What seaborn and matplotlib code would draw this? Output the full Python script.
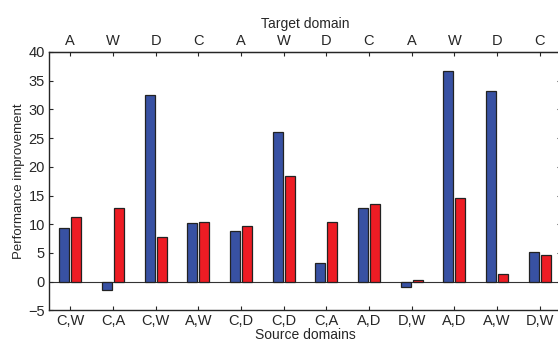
import pandas as pd
import numpy as np
import seaborn as sns
import matplotlib
matplotlib.use("Agg")
import matplotlib.pyplot as plt

sns.set_style("ticks")
plt.rcParams['font.family'] = ['Liberation Sans', 'DejaVu Sans']

source_labels = ["C,W", "C,A", "C,W", "A,W", "C,D", "C,D", "C,A", "A,D", "D,W", "A,D", "A,W", "D,W"]
target_labels = ["A", "W", "D", "C", "A", "W", "D", "C", "A", "W", "D", "C"]
blue_vals = [9.3, -1.4, 32.5, 10.2, 8.9, 26.1, 3.2, 12.9, -0.9, 36.7, 33.2, 5.2]
red_vals = [11.3, 12.9, 7.8, 10.4, 9.6, 18.4, 10.3, 13.6, 0.3, 14.6, 1.4, 4.7]


def main():
    n = len(source_labels)
    df = pd.DataFrame({
        "pos": list(range(n)) * 2,
        "method": ["blue"] * n + ["red"] * n,
        "value": blue_vals + red_vals,
    })

    fig = plt.figure(figsize=(5.58, 3.41), dpi=100)
    ax = fig.add_axes([49 / 558, 30.7 / 341, 512 / 558, 258.3 / 341])

    sns.barplot(data=df, x="pos", y="value", hue="method", order=list(range(n)),
                palette={"blue": "#3851a3", "red": "#ed1c24"}, saturation=1,
                width=0.56, gap=0.15, edgecolor="#222222", linewidth=0.9,
                legend=False, ax=ax)

    ax.axhline(0, color="#333333", lw=0.8, zorder=0)
    ax.set_xlim(-0.5, n - 0.5)
    ax.set_ylim(-5, 40)
    ax.set_yticks(range(-5, 41, 5))
    ax.set_yticklabels(["\u22125"] + [str(v) for v in range(0, 41, 5)])
    ax.set_xticks(range(n))
    ax.set_xticklabels(source_labels)
    ax.set_xlabel("Source domains", fontsize=10, labelpad=0)
    ax.set_ylabel("Performance improvement", fontsize=9.5, labelpad=2)
    ax.tick_params(direction="in", length=3, labelsize=10.5, pad=3,
                   right=True, top=False)

    sec = ax.secondary_xaxis("top")
    sec.set_xticks(range(n))
    sec.set_xticklabels(target_labels)
    sec.tick_params(direction="in", length=3, labelsize=10.5, pad=3)
    sec.set_xlabel("Target domain", fontsize=10, labelpad=4)

    for s in ax.spines.values():
        s.set_linewidth(1.0)
        s.set_visible(True)

    fig.savefig("out.png", dpi=100)


if __name__ == "__main__":
    main()
